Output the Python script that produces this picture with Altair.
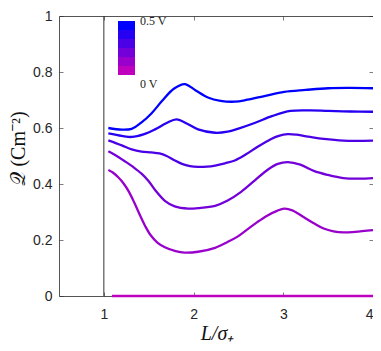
import altair as alt
import pandas as pd

volts = [0.5, 0.4, 0.3, 0.2, 0.1, 0.0]
# colour bins: two empty bins below 0 V, 0 V ... 0.5 V, one empty bin above 0.5 V
bin_edges = [-0.15, -0.05, 0.05, 0.15, 0.25, 0.35, 0.45, 0.55]
colors = ["rgba(0,0,0,0)", "rgba(0,0,0,0)", "#bf00bf", "#9900cc", "#7300d9",
          "#4c00e6", "#2600f2", "#0000ff", "rgba(0,0,0,0)"]

x_05 = [1.05, 1.2, 1.31, 1.42, 1.53, 1.65, 1.78, 1.90, 2.02, 2.16, 2.3, 2.46, 2.6, 2.8, 3.01, 3.25, 3.5, 3.75, 4.0]
q_05 = [0.600, 0.594, 0.597, 0.620, 0.652, 0.697, 0.740, 0.757, 0.735, 0.709, 0.697, 0.694, 0.701, 0.715, 0.729, 0.736, 0.742, 0.743, 0.742]

x_04 = [1.05, 1.2, 1.31, 1.45, 1.57, 1.7, 1.81, 1.93, 2.05, 2.24, 2.38, 2.5, 2.68, 2.88, 3.08, 3.3, 3.5, 3.75, 4.0]
q_04 = [0.581, 0.572, 0.568, 0.578, 0.595, 0.618, 0.631, 0.615, 0.595, 0.583, 0.587, 0.598, 0.618, 0.643, 0.661, 0.663, 0.661, 0.659, 0.658]

x_03 = [1.05, 1.2, 1.31, 1.42, 1.53, 1.62, 1.7, 1.78, 1.87, 1.96, 2.05, 2.15, 2.24, 2.35, 2.46, 2.58, 2.71, 2.86, 2.95, 3.05, 3.15, 3.3, 3.45, 3.67, 4.0]
q_03 = [0.556, 0.538, 0.524, 0.516, 0.513, 0.509, 0.500, 0.486, 0.472, 0.464, 0.461, 0.462, 0.466, 0.474, 0.484, 0.505, 0.532, 0.560, 0.572, 0.578, 0.576, 0.568, 0.561, 0.555, 0.555]

x_02 = [1.05, 1.13, 1.24, 1.33, 1.42, 1.5, 1.58, 1.68, 1.79, 1.94, 2.05, 2.24, 2.38, 2.53, 2.68, 2.83, 2.94, 3.05, 3.19, 3.34, 3.49, 3.67, 3.85, 4.0]
q_02 = [0.517, 0.503, 0.480, 0.460, 0.437, 0.410, 0.375, 0.340, 0.320, 0.312, 0.314, 0.322, 0.341, 0.372, 0.412, 0.452, 0.472, 0.478, 0.469, 0.447, 0.433, 0.421, 0.419, 0.421]

x_01 = [1.05, 1.1, 1.16, 1.22, 1.28, 1.34, 1.4, 1.46, 1.52, 1.6, 1.68, 1.8, 1.9, 2.05, 2.24, 2.38, 2.49, 2.6, 2.71, 2.82, 2.93, 3.01, 3.1, 3.23, 3.35, 3.45, 3.56, 3.67, 3.8, 4.0]
q_01 = [0.450, 0.441, 0.424, 0.402, 0.372, 0.333, 0.290, 0.250, 0.218, 0.190, 0.174, 0.160, 0.155, 0.158, 0.172, 0.193, 0.212, 0.238, 0.264, 0.287, 0.304, 0.312, 0.306, 0.281, 0.258, 0.241, 0.231, 0.227, 0.229, 0.235]

x_00 = [1.09, 4.0]
q_00 = [0.0, 0.0]

x_ref = [1.0]

rows = []
for v, xs_, qs in [(0.5, x_05, q_05), (0.4, x_04, q_04), (0.3, x_03, q_03),
                   (0.2, x_02, q_02), (0.1, x_01, q_01), (0.0, x_00, q_00)]:
    for x, q in zip(xs_, qs):
        rows.append({"V": v, "L": x, "Q": q})
df = pd.DataFrame(rows)

xs = alt.Scale(domain=[0.5, 4], nice=False, zero=False)
ys = alt.Scale(domain=[0, 1], nice=False)

axis_col = "#262626"
tick_font = "Liberation Sans"

legend = alt.Legend(
    type="gradient", orient="none", legendX=59, legendY=-4, title=None, padding=0,
    direction="vertical", gradientLength=81, gradientThickness=17,
    gradientStrokeWidth=0,
    labelOffset=5, labelBaseline="middle", labelOverlap=False,
    labelExpr="datum.value == 0.55 ? '0.5 V' : (datum.value == -0.15 ? '0 V' : '')",
    labelFont="Liberation Serif", labelFontSize=12, labelColor="#222222",
)

lines = alt.Chart(df).mark_line(strokeWidth=2.3, interpolate="catmull-rom").encode(
    x=alt.X("L:Q", scale=xs, axis=alt.Axis(
        orient="bottom", values=[1, 2, 3, 4], format="d", domain=False,
        ticks=True, tickSize=4, offset=-4, tickColor=axis_col, tickWidth=0.6,
        labelPadding=11, labelFont=tick_font, labelFontSize=14, labelColor=axis_col,
        title="L/σ₊", titleFont="Liberation Serif", titleFontStyle="italic",
        titleFontWeight="normal", titleFontSize=20, titleColor="#111111",
        titleX=158, titleY=47, titleBaseline="alphabetic", grid=False)),
    y=alt.Y("Q:Q", scale=ys, axis=alt.Axis(
        orient="left", values=[0, 0.2, 0.4, 0.6, 0.8, 1], domain=False,
        ticks=True, tickSize=4, offset=-4, tickColor=axis_col, tickWidth=0.6,
        labelPadding=7, labelFont=tick_font, labelFontSize=14, labelColor=axis_col,
        labelExpr="datum.value == 0 ? '0' : datum.value == 1 ? '1' : format(datum.value, '.1f')",
        title="𝒬 (Cm⁻²)", titleFont="Liberation Serif", titleFontWeight="normal",
        titleFontSize=20, titleColor="#111111", titleAngle=-90,
        titleX=-45, titleY=132, titleAlign="center", titleBaseline="middle", grid=False)),
    color=alt.Color("V:Q", scale=alt.Scale(type="threshold", domain=bin_edges, range=colors),
                    legend=legend),
    detail="V:N",
)

vline = alt.Chart(pd.DataFrame({"L": x_ref})).mark_rule(color="#333333", strokeWidth=1).encode(
    x=alt.X("L:Q", scale=xs, axis=alt.Axis(
        orient="top", values=[1, 2, 3, 4], domain=False, labels=False, title=None,
        ticks=True, tickSize=4, offset=-4, tickColor=axis_col, tickWidth=0.6, grid=False)),
)

ydummy = alt.Chart(pd.DataFrame({"Q": [0.0]})).mark_rule(opacity=0).encode(
    y=alt.Y("Q:Q", scale=ys, axis=alt.Axis(
        orient="right", values=[0, 0.2, 0.4, 0.6, 0.8, 1], domain=False, labels=False,
        title=None, ticks=True, tickSize=4, offset=-4, tickColor=axis_col,
        tickWidth=0.6, grid=False)),
)

chart = alt.layer(lines, vline, ydummy).resolve_axis(
    x="independent", y="independent"
).properties(
    width=314, height=280, autosize="none",
    padding={"left": 51, "top": 8, "right": 0, "bottom": 47},
).configure_view(stroke="#555555", strokeWidth=1)

chart.save("out.html", embed_options={"renderer": "svg", "actions": False})
